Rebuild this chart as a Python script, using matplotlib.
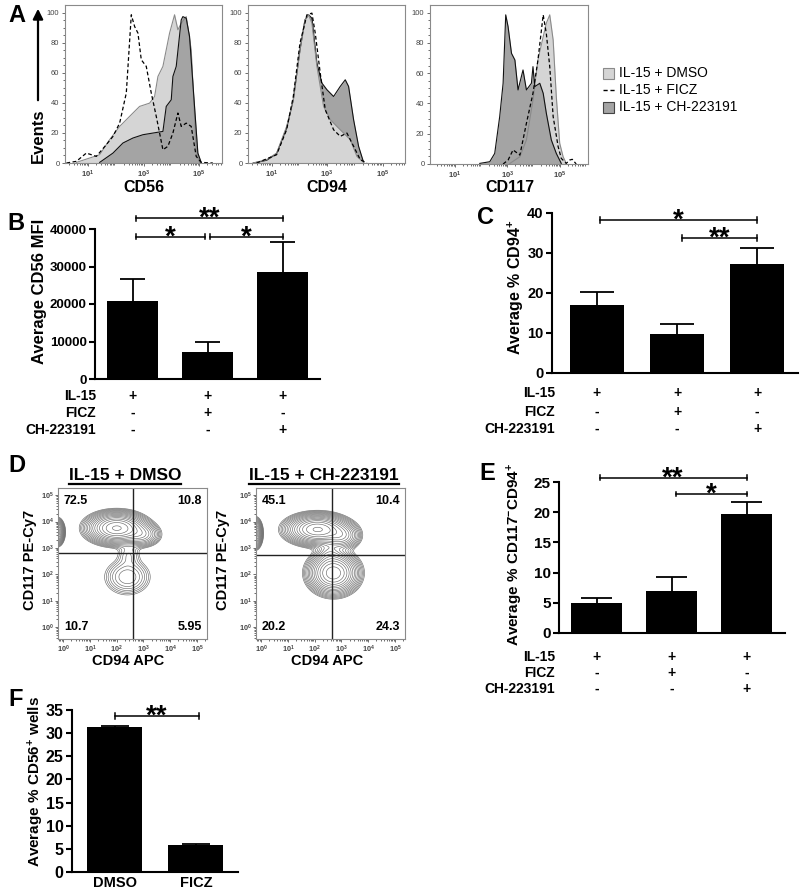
import numpy as np
import matplotlib
matplotlib.use("Agg")
import matplotlib.pyplot as plt
from matplotlib.patches import Rectangle, FancyArrowPatch
from matplotlib.ticker import LogLocator, NullFormatter, FixedLocator

W, H = 800, 891
plt.rcParams.update({"font.family": ["Liberation Sans", "DejaVu Sans"],
                     "font.weight": "bold",
                     "mathtext.fontset": "custom",
                     "mathtext.rm": "Liberation Sans",
                     "mathtext.bf": "Liberation Sans:bold",
                     "mathtext.it": "Liberation Sans:italic"})

# ---------------- data ----------------
# A: histograms, x = log10 fluorescence, y = % of max
cd56_dmso_x = [0.58, 1.42, 1.78, 2.14, 2.62, 2.86, 3.22, 3.40, 3.52, 3.70, 3.94, 4.12, 4.24, 4.36, 4.54, 4.72, 4.90, 5.02]
cd56_dmso_y = [0.4, 5.5, 15.5, 24.3, 33.2, 37.6, 39.8, 44.2, 57.5, 64.2, 86.3, 98.5, 88.5, 92.9, 97.3, 75.2, 8.8, 0.4]
cd56_ch_x = [1.42, 1.90, 2.26, 2.62, 2.98, 3.34, 3.70, 3.82, 4.00, 4.06, 4.18, 4.36, 4.42, 4.54, 4.66, 4.84, 4.96, 5.08]
cd56_ch_y = [0.4, 6.6, 13.3, 16.6, 18.8, 19.9, 21.0, 37.6, 42.0, 57.5, 64.2, 95.1, 97.3, 96.2, 84.1, 37.6, 6.6, 0.4]
cd56_ficz_x = [0.22, 0.58, 0.94, 1.30, 1.66, 1.90, 2.14, 2.38, 2.56, 2.68, 2.80, 2.92, 3.10, 3.28, 3.46, 3.70, 3.88, 4.06, 4.24, 4.36, 4.54, 4.72, 4.90, 5.08, 5.50]
cd56_ficz_y = [0, 1.1, 6.6, 4.4, 12.2, 17.7, 26.5, 46.5, 98.5, 90.7, 86.3, 68.6, 64.2, 46.5, 31.0, 8.8, 11.1, 19.9, 33.2, 24.3, 26.5, 24.3, 4.4, 0.4, 0]

cd94_dmso_x = [0.34, 0.82, 1.18, 1.54, 1.78, 2.02, 2.20, 2.33, 2.45, 2.63, 2.87, 3.11, 3.35, 3.59, 3.83, 4.07, 4.31]
cd94_dmso_y = [0, 2.2, 6.6, 24.3, 42.0, 75.2, 95.1, 98.5, 92.9, 64.2, 37.6, 28.8, 24.3, 19.9, 15.5, 4.4, 0.4]
cd94_ch_x = [0.34, 0.82, 1.18, 1.54, 1.78, 2.02, 2.20, 2.33, 2.45, 2.63, 2.81, 2.99, 3.23, 3.47, 3.65, 3.77, 3.95, 4.13, 4.31]
cd94_ch_y = [0, 1.8, 6.2, 23.2, 42.0, 75.2, 95.1, 98.5, 96.2, 66.4, 53.1, 48.7, 44.2, 50.9, 55.3, 50.9, 28.8, 11.1, 0.4]
cd94_ficz_x = [0.46, 1.18, 1.54, 1.78, 2.02, 2.27, 2.45, 2.57, 2.75, 2.93, 3.23, 3.47, 3.71, 3.95, 4.19, 4.43]
cd94_ficz_y = [0, 5.5, 22.1, 44.2, 79.6, 98.5, 99.6, 86.3, 59.7, 35.4, 22.1, 17.7, 19.9, 11.1, 2.2, 0]

cd117_dmso_x = [3.10, 3.48, 3.73, 3.98, 4.17, 4.37, 4.49, 4.62, 4.75, 4.87, 5.00, 5.13, 5.25]
cd117_dmso_y = [0.4, 4.8, 15.9, 42.3, 68.7, 84.1, 93.0, 98.5, 81.9, 44.5, 13.7, 4.8, 0.4]
cd117_ch_x = [1.95, 2.33, 2.52, 2.71, 2.84, 2.94, 3.03, 3.16, 3.29, 3.41, 3.60, 3.73, 3.92, 3.98, 4.05, 4.24, 4.37, 4.49, 4.68, 4.87, 5.06]
cd117_ch_y = [0.4, 1.5, 7.0, 31.3, 53.3, 98.5, 90.7, 73.1, 68.7, 48.9, 62.1, 48.9, 53.3, 64.3, 51.1, 53.3, 46.7, 33.5, 15.9, 7.0, 0.4]
cd117_ficz_x = [2.84, 3.03, 3.22, 3.48, 3.73, 3.98, 4.17, 4.37, 4.49, 4.62, 4.75, 4.94, 5.06, 5.25, 5.38, 5.48, 5.63]
cd117_ficz_y = [0, 2.6, 9.3, 5.9, 26.9, 46.7, 68.7, 98.5, 86.1, 64.3, 31.3, 11.5, 3.7, 0.4, 2.6, 3.1, 0]

# B, C, E: treatment groups
treat_rows = ["IL-15", "FICZ", "CH-223191"]
treat_signs = [["+", "+", "+"], ["-", "+", "-"], ["-", "-", "+"]]
b_mean = [20800, 7200, 28500]
b_sem = [5900, 2700, 8000]
c_mean = [17.0, 9.75, 27.25]
c_sem = [3.3, 2.5, 4.0]
e_mean = [4.9, 7.0, 19.7]
e_sem = [0.9, 2.3, 2.0]
# F
f_groups = ["DMSO", "FICZ"]
f_mean = [31.3, 5.8]
f_sem = [0.3, 0.35]

# D: contour populations (log10 CD94, log10 CD117, sd x, sd y, weight)
d_dmso_pops = [(2.0, 3.75, 0.50, 0.27, 1.0), (2.95, 3.5, 0.33, 0.22, 0.22),
               (2.4, 1.9, 0.45, 0.36, 0.12), (2.45, 2.75, 0.25, 0.25, 0.05),
               (-0.22, 3.6, 0.12, 0.22, 0.6), (2.1, 0.0, 0.10, 0.05, 0.02)]
d_ch_pops = [(2.1, 3.7, 0.52, 0.26, 1.0), (3.0, 3.45, 0.33, 0.24, 0.3),
             (2.7, 2.05, 0.42, 0.36, 0.9), (2.55, 2.8, 0.25, 0.25, 0.08),
             (-0.22, 3.55, 0.12, 0.25, 0.6)]
d_dmso_quads = ["72.5", "10.8", "10.7", "5.95"]
d_ch_quads = ["45.1", "10.4", "20.2", "24.3"]
d_gate_x = [2.6, 2.65]
d_gate_y = [2.8, 2.75]

# ---------------- layout helpers ----------------
fig = plt.figure(figsize=(W / 100, H / 100), dpi=100)
ov = fig.add_axes([0, 0, 1, 1])
ov.set_xlim(0, W); ov.set_ylim(H, 0); ov.axis("off")


def px_axes(l, t, r, b):
    return fig.add_axes([l / W, 1 - b / H, (r - l) / W, (b - t) / H])


def txt(x, y, s, **kw):
    kw.setdefault("ha", "center"); kw.setdefault("va", "center")
    return ov.text(x, y, s, **kw)


DMSO_FC, DMSO_EC = "#d5d5d5", "#8a8a8a"
CH_FC, CH_EC = "#a4a4a4", "#111111"


def hist_panel(ax, curves, order, xr):
    for name in order:
        x, y = curves[name]
        xv = 10 ** np.asarray(x)
        if name == "dmso":
            ax.fill_between(xv, y, color=DMSO_FC, lw=0)
            ax.plot(xv, y, color=DMSO_EC, lw=0.8)
        elif name == "ch":
            ax.fill_between(xv, y, color=CH_FC, lw=0)
            ax.plot(xv, y, color=CH_EC, lw=0.8)
        else:
            ax.plot(xv, y, color="k", lw=0.9, ls=(0, (3, 2)))
    ax.set_xscale("log")
    ax.set_xlim(10 ** xr[0], 10 ** xr[1])
    ax.set_ylim(0, 105)
    ax.set_yticks([0, 20, 40, 60, 80, 100])
    ax.xaxis.set_major_locator(FixedLocator([10, 1e3, 1e5]))
    ax.set_xticklabels([r"$10^{1}$", r"$10^{3}$", r"$10^{5}$"])
    ax.xaxis.set_minor_locator(LogLocator(base=10, subs=np.arange(2, 10), numticks=20))
    ax.xaxis.set_minor_formatter(NullFormatter())
    ax.yaxis.set_minor_locator(FixedLocator(np.arange(0, 101, 5)))
    ax.tick_params(which="both", direction="out", colors="#555", labelsize=5.5, width=0.6)
    ax.tick_params(which="major", length=2.5, pad=1.5)
    ax.tick_params(which="minor", length=1.5)
    for lab in ax.get_xticklabels() + ax.get_yticklabels():
        lab.set_fontweight("normal"); lab.set_color("#444")
    for s in ax.spines.values():
        s.set_color("#8a8a8a"); s.set_linewidth(0.8)


# ---------------- panel A ----------------
a1 = px_axes(65, 5, 222, 163)
hist_panel(a1, {"dmso": (cd56_dmso_x, cd56_dmso_y), "ch": (cd56_ch_x, cd56_ch_y),
                "ficz": (cd56_ficz_x, cd56_ficz_y)}, ["dmso", "ch", "ficz"], (0.17, 5.83))
a2 = px_axes(248, 5, 405, 163)
hist_panel(a2, {"dmso": (cd94_dmso_x, cd94_dmso_y), "ch": (cd94_ch_x, cd94_ch_y),
                "ficz": (cd94_ficz_x, cd94_ficz_y)}, ["ch", "dmso", "ficz"], (0.15, 5.8))
a3 = px_axes(430, 5, 588, 164)
hist_panel(a3, {"dmso": (cd117_dmso_x, cd117_dmso_y), "ch": (cd117_ch_x, cd117_ch_y),
                "ficz": (cd117_ficz_x, cd117_ficz_y)}, ["dmso", "ch", "ficz"], (0.05, 6.08))
for x, s in [(144, "CD56"), (327, "CD94"), (510, "CD117")]:
    txt(x, 188, s, fontsize=11.5)
txt(17, 16, "A", fontsize=17)
txt(38, 136, "Events", fontsize=12, rotation=90)
ov.add_patch(FancyArrowPatch((38, 103), (38, 6), arrowstyle="-|>,head_length=6,head_width=3",
                             color="k", lw=1.6, mutation_scale=1))

# legend
leg = [("IL-15 + DMSO", "dmso"), ("IL-15 + FICZ", "ficz"), ("IL-15 + CH-223191", "ch")]
for i, (lab, kind) in enumerate(leg):
    y = 73 + 17 * i
    if kind == "ficz":
        ov.plot([603, 616], [y, y], color="k", lw=1.0, ls=(0, (3, 2)))
    else:
        fc, ec = (DMSO_FC, DMSO_EC) if kind == "dmso" else (CH_FC, "#444")
        ov.add_patch(Rectangle((603, y - 5.5), 11, 11, fc=fc, ec=ec, lw=0.8))
    txt(619, y, lab, ha="left", fontsize=10, fontweight="normal")


# ---------------- bar panels ----------------
def bar_panel(ax, means, sems, ylim, yticks, fs, xr, cap=0.17):
    x = np.arange(len(means))
    means = np.asarray(means); sems = np.asarray(sems)
    ax.vlines(x, means, means + sems, color="k", lw=1.3, zorder=1)
    ax.hlines(means + sems, x - cap, x + cap, color="k", lw=1.3, zorder=1)
    ax.bar(x, means, width=0.68, color="k", zorder=2)
    ax.set_xlim(*xr)
    ax.set_ylim(*ylim)
    ax.set_yticks(yticks)
    for s in ["top", "right"]:
        ax.spines[s].set_visible(False)
    for s in ["left", "bottom"]:
        ax.spines[s].set_linewidth(1.5)
    ax.tick_params(axis="y", direction="out", length=4, width=1.5, labelsize=fs, pad=2)
    ax.tick_params(axis="x", length=0, labelbottom=False)
    ax.patch.set_alpha(0)
    return x


def bracket(ax, x1, x2, y, stars, capfrac=0.016, fs=20, off=-5.5):
    span = ax.get_ylim()[1] - ax.get_ylim()[0]
    c = capfrac * span
    ax.plot([x1, x2], [y, y], color="k", lw=1.1, clip_on=False)
    for xx in (x1, x2):
        ax.plot([xx, xx], [y - c, y + c], color="k", lw=1.1, clip_on=False)
    ax.annotate(stars, xy=((x1 + x2) / 2, y), xytext=(0, off), textcoords="offset points",
                ha="center", va="baseline", fontsize=fs, annotation_clip=False)


def treat_table(ax, xs, ax_bottom, ax_h, row_y, label_x):
    for r, lab in enumerate(treat_rows):
        txt(label_x, row_y[r], lab, ha="right", fontsize=10)
        for i, xx in enumerate(xs):
            ax.text(xx, (ax_bottom - row_y[r]) / ax_h, treat_signs[r][i],
                    transform=ax.get_xaxis_transform(), ha="center", va="center",
                    fontsize=10, clip_on=False)


# B
axb = px_axes(95, 229, 320, 379)
xb = bar_panel(axb, b_mean, b_sem, (0, 40000), [0, 10000, 20000, 30000, 40000], 9.5, (-0.5, 2.5))
bracket(axb, xb[0] + 0.05, xb[2], 42900, "**")
bracket(axb, xb[0] + 0.05, xb[1] - 0.03, 37900, "*")
bracket(axb, xb[1] + 0.03, xb[2], 37900, "*")
treat_table(axb, xb, 379, 150, [396, 413, 430], 96)
txt(40, 291, "Average CD56 MFI", rotation=90, fontsize=12)
txt(16, 223, "B", fontsize=17)

# C
axc = px_axes(552, 213, 798, 373)
xc = bar_panel(axc, c_mean, c_sem, (0, 40), [0, 10, 20, 30, 40], 10.5, (-0.56, 2.51), cap=0.21)
bracket(axc, xc[0] + 0.04, xc[2], 38.25, "*")
bracket(axc, xc[1] + 0.06, xc[2], 33.75, "**")
treat_table(axc, xc, 373, 160, [393, 412, 429], 555)
txt(516, 287, r"Average % CD94$^{\mathbf{+}}$", rotation=90, fontsize=11.5)
txt(485, 218, "C", fontsize=17)

# E
axe = px_axes(559, 482, 785, 633)
xe = bar_panel(axe, e_mean, e_sem, (0, 25), [0, 5, 10, 15, 20, 25], 11, (-0.5, 2.51), cap=0.21)
bracket(axe, xe[0] + 0.04, xe[2], 25.7, "**")
bracket(axe, xe[1] + 0.06, xe[2], 23.0, "*")
treat_table(axe, xe, 633, 151, [657, 673, 689], 555)
txt(515, 554, r"Average % CD117$^{\mathbf{-}}$CD94$^{\mathbf{+}}$", rotation=90, fontsize=11)
txt(487, 474, "E", fontsize=17)

# F
axf = px_axes(72, 710, 238, 872)
xf = bar_panel(axf, f_mean, f_sem, (0, 35), [0, 5, 10, 15, 20, 25, 30, 35], 11.5, (-0.53, 1.52), cap=0.17)
bracket(axf, xf[0], xf[1] + 0.04, 33.7, "**")
for i, g in enumerate(f_groups):
    axf.text(xf[i], (872 - 883) / 162, g, transform=axf.get_xaxis_transform(),
             ha="center", va="center", fontsize=10.5)
txt(36, 782, r"Average % CD56$^{\mathbf{+}}$ wells", rotation=90, fontsize=11)
txt(16, 700, "F", fontsize=17)


# ---------------- panel D ----------------
def contour_panel(ax, pops, gate, quads, xr=(-0.19, 5.37), yr=(-0.45, 5.27)):
    gx = np.linspace(xr[0], xr[1], 300)
    gy = np.linspace(yr[0], yr[1], 300)
    GX, GY = np.meshgrid(gx, gy)
    Z = np.zeros_like(GX)
    for cx, cy, sx, sy, w in pops:
        Z += w * np.exp(-0.5 * ((GX - cx) / sx) ** 2 - 0.5 * ((GY - cy) / sy) ** 2)
    levels = Z.max() * np.geomspace(0.02, 0.95, 16)
    ax.contour(10 ** GX, 10 ** GY, Z, levels=levels, colors="#6a6a6a", linewidths=0.45)
    ax.set_xscale("log"); ax.set_yscale("log")
    ax.set_xlim(10 ** xr[0], 10 ** xr[1]); ax.set_ylim(10 ** yr[0], 10 ** yr[1])
    ax.axvline(10 ** gate[0], color="#222", lw=1.0)
    ax.axhline(10 ** gate[1], color="#222", lw=1.0)
    dec = [1, 10, 100, 1e3, 1e4, 1e5]
    labs = [r"$10^{%d}$" % i for i in range(6)]
    for axis in (ax.xaxis, ax.yaxis):
        axis.set_major_locator(FixedLocator(dec))
        axis.set_minor_locator(LogLocator(base=10, subs=np.arange(2, 10), numticks=20))
        axis.set_minor_formatter(NullFormatter())
    ax.set_xticklabels(labs); ax.set_yticklabels(labs)
    ax.tick_params(which="both", direction="out", colors="#555", labelsize=5.2, width=0.6)
    ax.tick_params(which="major", length=2.2, pad=1.0)
    ax.tick_params(which="minor", length=1.4)
    for lab in ax.get_xticklabels() + ax.get_yticklabels():
        lab.set_fontweight("normal"); lab.set_color("#444")
    for s in ax.spines.values():
        s.set_color("#8a8a8a"); s.set_linewidth(0.8)
    kw = dict(transform=ax.transAxes, fontsize=9)
    ax.text(0.04, 0.955, quads[0], ha="left", va="top", **kw)
    ax.text(0.965, 0.955, quads[1], ha="right", va="top", **kw)
    ax.text(0.04, 0.04, quads[2], ha="left", va="bottom", **kw)
    ax.text(0.965, 0.04, quads[3], ha="right", va="bottom", **kw)


ad1 = px_axes(58, 488, 207, 639)
contour_panel(ad1, d_dmso_pops, (d_gate_x[0], d_gate_y[0]), d_dmso_quads)
ad2 = px_axes(256, 488, 405, 639)
contour_panel(ad2, d_ch_pops, (d_gate_x[1], d_gate_y[1]), d_ch_quads)
titles = [txt(125, 475, "IL-15 + DMSO", fontsize=12.5), txt(324, 475, "IL-15 + CH-223191", fontsize=12.5)]
txt(30, 560, "CD117 PE-Cy7", rotation=90, fontsize=10.5)
txt(223, 560, "CD117 PE-Cy7", rotation=90, fontsize=10.5)
txt(128, 661, "CD94 APC", fontsize=10.5)
txt(327, 661, "CD94 APC", fontsize=10.5)
txt(17, 466, "D", fontsize=17)

fig.canvas.draw()
for t in titles:
    bb = t.get_window_extent()
    yy = H - bb.y0 + 1
    ov.plot([bb.x0, bb.x1], [yy, yy], color="k", lw=1.6)

fig.savefig("out.png", dpi=100)
